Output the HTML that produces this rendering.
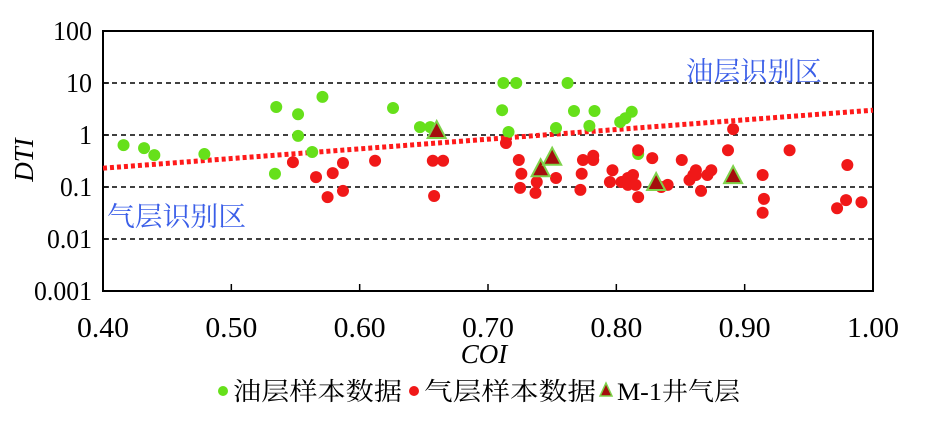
<!DOCTYPE html>
<html><head><meta charset="utf-8"><style>
body{margin:0;background:#fff;width:945px;height:418px;overflow:hidden}
svg text{font-family:"Liberation Serif","Noto Serif CJK SC",serif}
</style></head><body>
<svg id="chart" width="945" height="418" xmlns="http://www.w3.org/2000/svg"></svg>
<script>
const xTicks=[0.4,0.5,0.6,0.7,0.8,0.9,1.0];
const xTickLabels=["0.40","0.50","0.60","0.70","0.80","0.90","1.00"];
const yTicks=[100,10,1,0.1,0.01,0.001];
const yTickLabels=["100","10","1","0.1","0.01","0.001"];
const oilX=[.416,.432,.440,.479,.535,.552,.552,.571,.534,.563,.626,.647,.655,.712,.722,.711,.716,.762,.767,.753,.783,.779,.803,.807,.812,.817];
const oilY=[0.64,0.56,0.41,0.43,3.45,2.5,0.96,5.4,0.18,0.47,3.3,1.42,1.42,10,10,3.0,1.14,10,2.9,1.36,2.9,1.5,1.78,2.1,2.8,0.43];
const gasX=[.548,.566,.579,.587,.575,.587,.612,.657,.665,.658,.714,.724,.726,.725,.737,.738,.753,.774,.773,.772,.782,.782,.797,.795,.804,.809,.809,.813,.815,.817,.817,.828,.835,.840,.851,.857,.860,.862,.862,.866,.871,.874,.887,.891,.914,.915,.914,.935,.972,.979,.980,.991];
const gasY=[0.30,0.155,0.185,0.29,0.064,0.084,0.32,0.32,0.32,0.067,0.70,0.33,0.18,0.096,0.077,0.125,0.149,0.33,0.18,0.088,0.40,0.33,0.21,0.125,0.125,0.149,0.11,0.17,0.11,0.064,0.51,0.36,0.10,0.11,0.33,0.136,0.17,0.21,0.17,0.084,0.17,0.21,0.51,1.3,0.17,0.059,0.032,0.51,0.039,0.056,0.265,0.051];
const wellX=[.660,.741,.750,.831,.891];
const wellY=[1.14,0.21,0.35,0.114,0.155];
const trendX=[0.4,1.0];
const trendY=[0.23,3.0];

const NS="http://www.w3.org/2000/svg";
const svg=document.getElementById('chart');
const L=103,R=873,T=31,B=291;
const sx=v=>L+(v-0.4)/0.6*(R-L);
const sy=v=>T+(2-Math.log10(v))/5*(B-T);
function mk(tag,attrs,parent){const e=document.createElementNS(NS,tag);for(const k in attrs)e.setAttribute(k,attrs[k]);(parent||svg).appendChild(e);return e;}

yTicks.slice(1,5).forEach(v=>{
 const g=mk('line',{x1:L,x2:R,y1:sy(v),y2:sy(v),stroke:'#000','stroke-width':1.5,'stroke-dasharray':'5,4'});
 
 
});
const box=mk('rect',{x:L,y:T,width:R-L,height:B-T,fill:'none',stroke:'#000','stroke-width':2});


xTicks.forEach((v,i)=>{
 mk('line',{x1:sx(v),x2:sx(v),y1:B,y2:B-7,stroke:'#000','stroke-width':1.5});
 const t=mk('text',{x:sx(v),y:337,'text-anchor':'middle','font-size':29,textLength:52,lengthAdjust:'spacingAndGlyphs'});
 t.textContent=xTickLabels[i];
 
 
});
yTicks.forEach((v,i)=>{
 mk('line',{x1:L,x2:L+6,y1:sy(v),y2:sy(v),stroke:'#000','stroke-width':1.5});
 const s=yTickLabels[i];
 const dots=(s.match(/\./g)||[]).length;
 const w=(s.length-dots)*13+dots*6;
 const t=mk('text',{x:92,y:sy(v)+9,'text-anchor':'end','font-size':27,textLength:w,lengthAdjust:'spacingAndGlyphs'});
 t.textContent=s;
 
 
});
const tl=mk('line',{x1:sx(trendX[0]),y1:sy(trendY[0]),x2:sx(trendX[1]),y2:sy(trendY[1]),stroke:'#ff1a1a','stroke-width':5,'stroke-dasharray':'4,3'});


oilX.forEach((x,i)=>{
 const c=mk('circle',{cx:sx(x),cy:sy(oilY[i]),r:6,fill:'#66e01a'});
 
 
});
gasX.forEach((x,i)=>{
 const c=mk('circle',{cx:sx(x),cy:sy(gasY[i]),r:6,fill:'#f01818'});
 
 
});
wellX.forEach((x,i)=>{
 const px=sx(x),py=sy(wellY[i]);
 const p=mk('polygon',{points:`${px},${py-11} ${px-9},${py+6} ${px+9},${py+6}`,fill:'#a50d0d',stroke:'#7ed24a','stroke-width':2});
 
 
});
</script>
<svg style="position:absolute;left:0;top:0" width="945" height="418" xmlns="http://www.w3.org/2000/svg">
 <text x="686" y="81" font-size="27" textLength="136" lengthAdjust="spacingAndGlyphs" fill="#3a5ee8" font-family="'Noto Sans CJK SC',sans-serif">油层识别区</text>
 <text x="107" y="226" font-size="27" textLength="139" lengthAdjust="spacingAndGlyphs" fill="#3a5ee8" font-family="'Noto Sans CJK SC',sans-serif">气层识别区</text>
 <text x="0" y="0" font-size="27" font-style="italic" font-family="'Liberation Serif',serif" transform="translate(33,160) rotate(-90)" text-anchor="middle">DTI</text>
 <text x="484" y="363" font-size="27" font-style="italic" font-family="'Liberation Serif',serif" text-anchor="middle">COI</text>
 <g font-size="25" font-family="'Liberation Serif','Noto Serif CJK SC',serif">
  <circle cx="223" cy="391" r="5" fill="#66e01a"/>
  <text x="233" y="400" textLength="169" lengthAdjust="spacingAndGlyphs">油层样本数据</text>
  <circle cx="414" cy="391" r="5" fill="#f01818"/>
  <text x="424" y="400" textLength="172" lengthAdjust="spacingAndGlyphs">气层样本数据</text>
  <polygon points="606,383 600,396 612,396" fill="#a50d0d" stroke="#7ed24a" stroke-width="1.5"/>
  <text x="617" y="400" textLength="123" lengthAdjust="spacingAndGlyphs">M-1井气层</text>
 </g>
</svg>
</body></html>
